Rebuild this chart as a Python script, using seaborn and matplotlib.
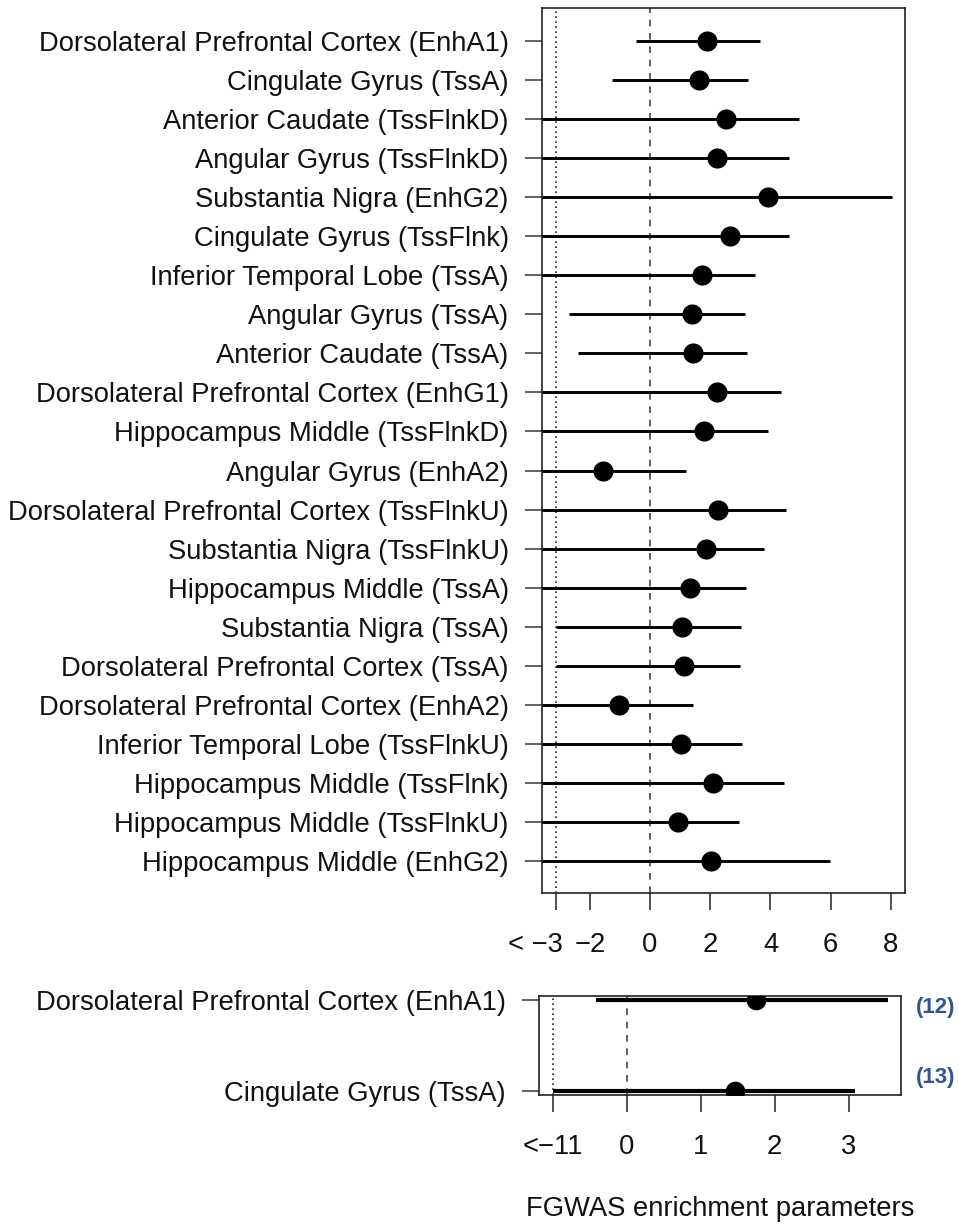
"""FGWAS enrichment parametri - forest plot (gornji i donji panel)."""

import numpy as np
import matplotlib
matplotlib.use("Agg")
import matplotlib.pyplot as plt
import matplotlib.transforms as mtrans
import seaborn as sns

# --- gornji panel ---
labels_top = [
    "Dorsolateral Prefrontal Cortex (EnhA1)",
    "Cingulate Gyrus (TssA)",
    "Anterior Caudate (TssFlnkD)",
    "Angular Gyrus (TssFlnkD)",
    "Substantia Nigra (EnhG2)",
    "Cingulate Gyrus (TssFlnk)",
    "Inferior Temporal Lobe (TssA)",
    "Angular Gyrus (TssA)",
    "Anterior Caudate (TssA)",
    "Dorsolateral Prefrontal Cortex (EnhG1)",
    "Hippocampus Middle (TssFlnkD)",
    "Angular Gyrus (EnhA2)",
    "Dorsolateral Prefrontal Cortex (TssFlnkU)",
    "Substantia Nigra (TssFlnkU)",
    "Hippocampus Middle (TssA)",
    "Substantia Nigra (TssA)",
    "Dorsolateral Prefrontal Cortex (TssA)",
    "Dorsolateral Prefrontal Cortex (EnhA2)",
    "Inferior Temporal Lobe (TssFlnkU)",
    "Hippocampus Middle (TssFlnk)",
    "Hippocampus Middle (TssFlnkU)",
    "Hippocampus Middle (EnhG2)",
]
est_top = [1.88, 1.62, 2.51, 2.21, 3.92, 2.66, 1.72, 1.41, 1.44, 2.21, 1.79,
           -1.55, 2.25, 1.87, 1.33, 1.06, 1.14, -1.03, 1.02, 2.08, 0.94, 2.02]
# -4.0 = donja granica ispod prikazanog opsega (odsjeceno osom)
lo_top = [-0.48, -1.27, -4.0, -4.0, -4.0, -4.0, -4.0, -2.68, -2.40, -4.0, -4.0,
          -4.0, -4.0, -4.0, -4.0, -3.12, -3.12, -4.0, -4.0, -4.0, -4.0, -4.0]
hi_top = [3.65, 3.24, 4.95, 4.63, 8.05, 4.60, 3.49, 3.16, 3.21, 4.35, 3.91,
          1.20, 4.51, 3.77, 3.20, 3.02, 2.99, 1.42, 3.07, 4.46, 2.97, 5.98]
xticks_top = [-3.12, -2, 0, 2, 4, 6, 8]
xticklabels_top = ["< \u22123", "\u22122", "0", "2", "4", "6", "8"]
trunc_top = -3.12

# --- donji panel ---
labels_bot = ["Dorsolateral Prefrontal Cortex (EnhA1)", "Cingulate Gyrus (TssA)"]
est_bot = [1.75, 1.46]
lo_bot = [-0.42, -1.0]
hi_bot = [3.54, 3.09]
refs_bot = ["(12)", "(13)"]
xticks_bot = [-1, 0, 1, 2, 3]
xticklabels_bot = ["<\u221211", "0", "1", "2", "3"]
trunc_bot = -1.0

FS = 19.7

sns.set_theme(style="white")
plt.rcParams["font.family"] = ["Liberation Sans", "DejaVu Sans"]

W, H = 959, 1226
fig = plt.figure(figsize=(W / 100, H / 100), dpi=100)
ax1 = fig.add_axes([542 / W, 1 - 893 / H, 363 / W, 885 / H])
ax2 = fig.add_axes([539 / W, 1 - 1095 / H, 362 / W, 99 / H])


def panel(ax, labels, est, lo, hi, trunc, lw, msize):
    y = np.arange(len(labels))
    ax.hlines(y, lo, hi, color="black", lw=lw, zorder=2)
    sns.scatterplot(x=est, y=y, ax=ax, s=msize, color="black", edgecolor="black",
                    linewidth=0, zorder=3, legend=False)
    ax.axvline(0, color="#444444", lw=1.2, ls=(0, (4, 4)), zorder=1)
    ax.axvline(trunc, color="#222222", lw=1.2, ls=(0, (1, 2)), zorder=1)
    ax.set_yticks(y)
    ax.set_yticklabels(labels, fontsize=FS, color="#111111")
    ax.tick_params(axis="y", left=True, length=12, width=1.3, color="#555555", pad=12)
    ax.tick_params(axis="x", bottom=True, length=12, width=1.3, color="#444444",
                   labelsize=FS, labelcolor="#111111", pad=16)
    for sp in ax.spines.values():
        sp.set_color("#222222")
        sp.set_linewidth(1.2)
    ax.set_xlabel("")
    ax.set_ylabel("")
    return y


panel(ax1, labels_top, est_top, lo_top, hi_top, trunc_top, 2.1, 210)
ax1.set_xlim(-3.59, 8.47)
ax1.set_ylim(21.82, -0.845)
ax1.set_xticks(xticks_top)
ax1.set_xticklabels(xticklabels_top)
# "< -3" je pomjeren ulijevo kao u originalu
lab = ax1.get_xticklabels()[0]
lab.set_transform(lab.get_transform() + mtrans.ScaledTranslation(-0.21, 0, fig.dpi_scale_trans))

panel(ax2, labels_bot, est_bot, lo_bot, hi_bot, trunc_bot, 3.0, 200)
ax2.set_xlim(-1.19, 3.71)
ax2.set_ylim(1.044, -0.044)
ax2.set_xticks(xticks_bot)
ax2.set_xticklabels(xticklabels_bot)

for yy, ref in zip([1008, 1078], refs_bot):
    fig.text(936 / W, 1 - yy / H, ref, ha="center", va="center", fontsize=16,
             fontweight="bold", color="#2F5597")

fig.text(720 / W, 1 - 1209 / H, "FGWAS enrichment parameters", ha="center",
         va="center", fontsize=FS, color="#111111")

fig.savefig("out.png", dpi=100)
plt.close(fig)
